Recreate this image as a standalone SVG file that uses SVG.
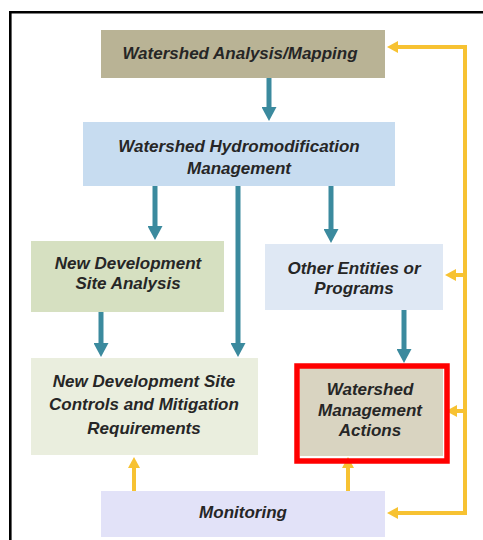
<svg xmlns="http://www.w3.org/2000/svg" width="483" height="540" viewBox="0 0 483 540">
  <defs>
    <style>
      .lbl { font-family: "Liberation Sans", Arial, sans-serif; font-size: 17px; font-weight: bold; font-style: italic; fill: #262626; text-anchor: middle; }
      .teal { stroke: #3b8a9e; stroke-width: 5; fill: none; }
      .gold { stroke: #f7c232; stroke-width: 4; fill: none; }
    </style>
    <marker id="headTeal" markerUnits="userSpaceOnUse" markerWidth="14" markerHeight="15" refX="1" refY="7.5" orient="auto">
      <path d="M0,0 L14,7.5 L0,15 Z" fill="#3b8a9e"/>
    </marker>
    <marker id="headGold" markerUnits="userSpaceOnUse" markerWidth="11" markerHeight="12" refX="1" refY="6" orient="auto">
      <path d="M0,0 L11,6 L0,12 Z" fill="#f7c232"/>
    </marker>
  </defs>

  <rect width="483" height="540" fill="#ffffff"/>
  <!-- frame -->
  <path d="M10.3,540 V12.3 H483" stroke="#000" stroke-width="2.6" fill="none"/>

  <g id="connectors">
    <line class="teal" x1="269" y1="78" x2="269" y2="108" marker-end="url(#headTeal)"/>
    <line class="teal" x1="155" y1="186" x2="155" y2="227" marker-end="url(#headTeal)"/>
    <line class="teal" x1="238" y1="186" x2="238" y2="344" marker-end="url(#headTeal)"/>
    <line class="teal" x1="331" y1="186" x2="331" y2="230" marker-end="url(#headTeal)"/>
    <line class="teal" x1="101" y1="312" x2="101" y2="344" marker-end="url(#headTeal)"/>
    <line class="teal" x1="404" y1="310" x2="404" y2="350" marker-end="url(#headTeal)"/>

    <path class="gold" d="M465,47 V513"/>
    <line class="gold" x1="467" y1="47" x2="397" y2="47" marker-end="url(#headGold)"/>
    <line class="gold" x1="465" y1="275" x2="455" y2="275" marker-end="url(#headGold)"/>
    <line class="gold" x1="465" y1="411" x2="456" y2="411" marker-end="url(#headGold)"/>
    <line class="gold" x1="467" y1="513" x2="397" y2="513" marker-end="url(#headGold)"/>
    <line class="gold" x1="134" y1="491" x2="134" y2="467" marker-end="url(#headGold)"/>
    <line class="gold" x1="348" y1="491" x2="348" y2="467" marker-end="url(#headGold)"/>
  </g>

  <g id="analysis-mapping">
    <rect x="101" y="30" width="284" height="48" fill="#b9b395"/>
    <text class="lbl" x="240" y="59">Watershed Analysis/Mapping</text>
  </g>

  <g id="hydromod-management">
    <rect x="83" y="122" width="312" height="64" fill="#c7dcf0"/>
    <text class="lbl" x="239" y="152">Watershed Hydromodification</text>
    <text class="lbl" x="239" y="174">Management</text>
  </g>

  <g id="site-analysis">
    <rect x="31" y="241" width="193" height="71" fill="#d6e0c1"/>
    <text class="lbl" x="128" y="269">New Development</text>
    <text class="lbl" x="128" y="289">Site Analysis</text>
  </g>

  <g id="other-entities">
    <rect x="265" y="244" width="178" height="66" fill="#dfe8f4"/>
    <text class="lbl" x="354" y="274">Other Entities or</text>
    <text class="lbl" x="354" y="294">Programs</text>
  </g>

  <g id="site-controls">
    <rect x="31" y="358" width="227" height="97" fill="#eaeede"/>
    <text class="lbl" x="144" y="387">New Development Site</text>
    <text class="lbl" x="144" y="410">Controls and Mitigation</text>
    <text class="lbl" x="144" y="434">Requirements</text>
  </g>

  <g id="management-actions">
    <rect x="300" y="368" width="143" height="88" fill="#d9d4c1"/>
    <text class="lbl" x="370" y="395">Watershed</text>
    <text class="lbl" x="370" y="416">Management</text>
    <text class="lbl" x="370" y="436">Actions</text>
    <rect x="297" y="366" width="150" height="95" fill="none" stroke="#ff0000" stroke-width="5.5"/>
  </g>

  <g id="monitoring">
    <rect x="101" y="491" width="284" height="46" fill="#e2e2f8"/>
    <text class="lbl" x="243" y="518">Monitoring</text>
  </g>
</svg>
